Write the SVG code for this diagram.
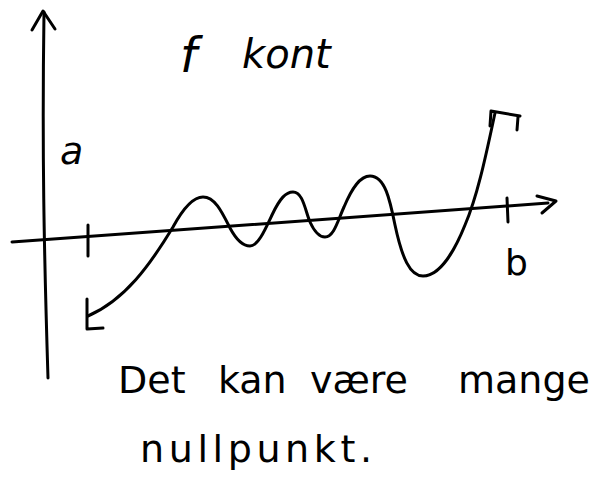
<svg xmlns="http://www.w3.org/2000/svg" width="591" height="483" viewBox="0 0 591 483">
<style>
.s{fill:none;stroke:#000;stroke-width:3;stroke-linecap:round;stroke-linejoin:round}
.t{font-family:"DejaVu Sans","Liberation Sans",sans-serif;fill:#000}
</style>
<rect width="591" height="483" fill="#fff"/>
<g id="axes">
<path class="s" d="M44,12 C42,150 44,250 48,378"/>
<path class="s" d="M32,30 L43,11 L55,29"/>
<path class="s" d="M12,242 L548,203"/>
<path class="s" d="M537,196 L556,201 L542,213"/>
<path class="s" d="M88,225 L88,256"/>
<path class="s" d="M507,198 L508,222"/>
</g>
<g id="curve">
<path class="s" d="M88,316 C125,300 150,265 173,227 C185,205 195,197 203,197 C215,197 222,212 230,228 C238,243 245,246 250,246 C258,246 265,230 272,215 C280,198 286,192 293,192 C303,192 305,210 310,222 C315,233 320,237 325,237 C334,237 338,220 344,207 C352,188 360,176 370,176 C385,176 390,200 395,225 C402,258 410,276 423,276 C440,276 455,250 465,225 C478,195 487,150 495,113"/>
<path class="s" d="M87,299 L87,329 L103,328"/>
<path class="s" d="M490,126 L491,111 L520,116 M518,117 L517,130"/>
</g>
<g id="labels">
<text class="t" x="180" y="72" font-size="48" font-style="italic">f <tspan x="242" y="68" font-size="40">kont</tspan></text>
<text class="t" x="60" y="164" font-size="38" font-style="italic">a</text>
<text class="t" x="505" y="275" font-size="36">b</text>
<text class="t" font-size="38" y="393"><tspan x="118">Det</tspan><tspan x="218">kan</tspan><tspan x="310">være</tspan><tspan x="458">mange</tspan></text>
<text class="t" font-size="38" x="140" y="462" textLength="232" lengthAdjust="spacing">nullpunkt.</text>
</g>
</svg>
